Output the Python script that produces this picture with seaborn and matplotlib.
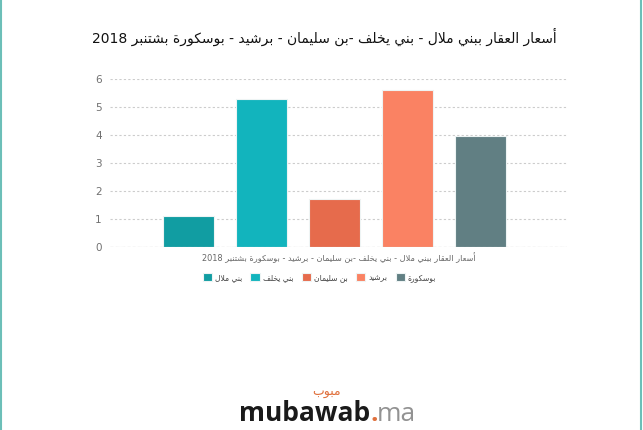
import re

import matplotlib.pyplot as plt
import pandas as pd
import seaborn as sns
from matplotlib.lines import Line2D

TITLE = 'أسعار العقار ببني ملال - بني يخلف -بن سليمان - برشيد - بوسكورة بشتنبر 2018'
CATEGORY = TITLE
cities = ['بني ملال', 'بني يخلف', 'بن سليمان', 'برشيد', 'بوسكورة']
prices = [1.1, 5.3, 1.72, 5.6, 3.95]
colors = ['#119da2', '#12b4bd', '#e66b4c', '#fa8263', '#617f83']
y_ticks = [0, 1, 2, 3, 4, 5, 6]

# matplotlib does no Arabic shaping, so pick the joined glyph forms by hand.
# value = first code point of the presentation forms (isolated, final, initial, medial)
FORMS = {'ا': 0xFE8D, 'أ': 0xFE83, 'ب': 0xFE8F, 'ة': 0xFE93, 'ت': 0xFE95,
         'خ': 0xFEA5, 'د': 0xFEA9, 'ر': 0xFEAD, 'س': 0xFEB1, 'ش': 0xFEB5,
         'ع': 0xFEC9, 'ف': 0xFED1, 'ق': 0xFED5, 'ك': 0xFED9, 'ل': 0xFEDD,
         'م': 0xFEE1, 'ن': 0xFEE5, 'و': 0xFEED, 'ي': 0xFEF1}
DUAL = set(FORMS) - set('اأةدرو')
LAM_ALEF = {'ا': 0xFEFB, 'أ': 0xFEF7}


def shape(text):
    tokens = []
    i = 0
    while i < len(text):
        if text[i] == 'ل' and text[i + 1:i + 2] in LAM_ALEF:
            tokens.append(text[i:i + 2])
            i += 2
        else:
            tokens.append(text[i])
            i += 1
    out = []
    for k, t in enumerate(tokens):
        prev = tokens[k - 1] if k > 0 else ''
        nxt = tokens[k + 1] if k + 1 < len(tokens) else ''
        if len(t) == 2:
            out.append(chr(LAM_ALEF[t[1]] + (prev in DUAL)))
        elif t in FORMS:
            joins_prev = prev in DUAL
            joins_next = t in DUAL and (nxt in FORMS or len(nxt) == 2)
            out.append(chr(FORMS[t] + [[0, 2], [1, 3]][joins_prev][joins_next]))
        else:
            out.append(t)
    # right-to-left display, digit runs stay left-to-right
    runs = re.findall(r'\d+|\D+', ''.join(out))
    return ''.join(r if r.isdigit() else r[::-1] for r in reversed(runs))


sns.set_style('white')
plt.rcParams['font.family'] = ['DejaVu Sans']

W, H = 643, 430
fig = plt.figure(figsize=(W / 100, H / 100), dpi=100)
ax = fig.add_axes([110 / W, 1 - 247 / H, 457 / W, 168 / H])

df = pd.DataFrame({'city': [shape(c) for c in cities], 'price': prices})
sns.barplot(data=df, x='city', y='price', hue='city', palette=colors,
            width=0.7, saturation=1, edgecolor='#eef4f4', linewidth=0.8,
            legend=True, ax=ax)

ax.set_ylim(0, 6)
ax.set_xlim(-1.075, 5.185)
ax.set_yticks(y_ticks)
ax.set_xticks([])
sns.despine(ax=ax, left=True, bottom=True)
ax.yaxis.grid(True, linestyle=(0, (2, 2)), color='#cccccc', linewidth=0.8)
ax.set_axisbelow(True)
ax.axhline(0, color='#aaaaaa', linestyle=(0, (3, 2)), linewidth=0.8)
ax.tick_params(axis='y', length=0, pad=6, labelsize=7.5, labelcolor='#707070')
ax.set_ylabel('')
ax.set_xlabel(shape(CATEGORY), fontsize=5.9, color='#666666', labelpad=4)

sns.move_legend(ax, 'center', bbox_to_anchor=(0.458, -0.18), ncol=5,
                frameon=False, title=None, fontsize=5.5, handlelength=1.2,
                handleheight=1.2, handletextpad=0.4, columnspacing=1.1)
for t in ax.get_legend().get_texts():
    t.set_color('#444444')

fig.text(324 / W, 1 - 37 / H, shape(TITLE), ha='center', va='center',
         fontsize=10, color='#111111')

# mubawab logo at the bottom
fig.text(370 / W, 1 - 421 / H, 'mubawab', ha='right', va='baseline',
         fontsize=19, fontweight='bold', family='Open Sans', color='#1a1a1a')
fig.text(370 / W, 1 - 421 / H, '.', ha='left', va='baseline',
         fontsize=19, fontweight='bold', family='Open Sans', color='#e0703c')
fig.text(377 / W, 1 - 421 / H, 'ma', ha='left', va='baseline',
         fontsize=19, family='Open Sans', color='#929292')
fig.text(327 / W, 1 - 392 / H, shape('مبوب'), ha='center', va='center',
         fontsize=9, color='#e0703c')

# teal frame edges
for x in (1 / W, 641 / W):
    fig.add_artist(Line2D([x, x], [0, 1], color='#6cbfb8', linewidth=1.5,
                          transform=fig.transFigure))

fig.savefig('out.png', dpi=100)
